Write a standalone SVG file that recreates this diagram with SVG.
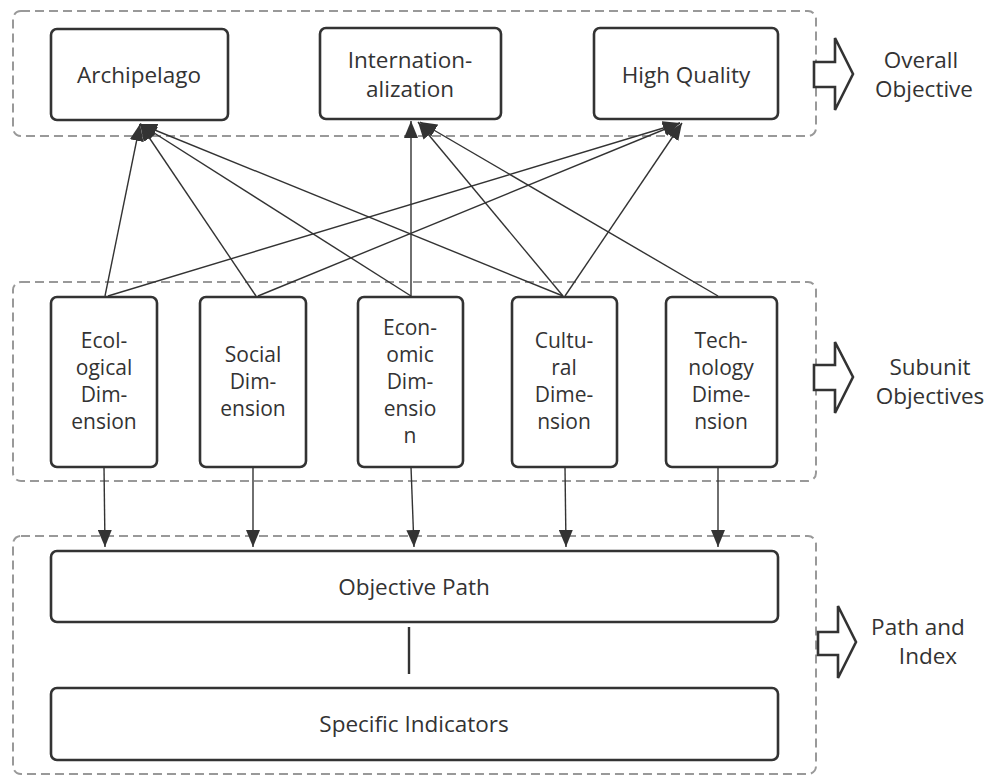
<svg xmlns="http://www.w3.org/2000/svg" width="995" height="776" viewBox="0 0 995 776">
<style>
.grp{fill:none;stroke:#999;stroke-width:2;stroke-dasharray:9 5}
.box{fill:#fff;stroke:#333;stroke-width:2.6}
.t{font-family:"Open Sans","Noto Sans",sans-serif;font-size:22.5px;fill:#333;text-anchor:middle}
.s{font-size:21px}
.c{stroke:#333;stroke-width:1.4;fill:none}
.blk{fill:#fff;stroke:#333;stroke-width:2.6;stroke-linejoin:miter}
</style>
<defs>
<marker id="ah" markerUnits="userSpaceOnUse" markerWidth="18" markerHeight="14" refX="17" refY="7" orient="auto">
<path d="M0,0 L17,7 L0,14 z" fill="#333"/>
</marker>
</defs>
<rect class="grp" x="13" y="11" width="803" height="125" rx="8"/>
<rect class="grp" x="13" y="282" width="803" height="199" rx="8"/>
<rect class="grp" x="13" y="536" width="803" height="238" rx="8"/>

<g id="archipelago"><rect class="box" x="51" y="29" width="177" height="91" rx="6"/><text class="t" x="139" y="83">Archipelago</text></g>
<g id="internationalization"><rect class="box" x="320" y="28" width="181" height="91" rx="6"/><text class="t" x="410" y="68">Internation-</text><text class="t" x="410" y="97">alization</text></g>
<g id="high-quality"><rect class="box" x="594" y="28" width="184" height="91" rx="6"/><text class="t" x="686" y="83">High Quality</text></g>

<g id="ecological"><rect class="box" x="51" y="297" width="106" height="170" rx="6"/><text class="t s" x="104" y="348">Ecol-</text><text class="t s" x="104" y="375">ogical</text><text class="t s" x="104" y="402">Dim-</text><text class="t s" x="104" y="429">ension</text></g>
<g id="social"><rect class="box" x="200" y="297" width="106" height="170" rx="6"/><text class="t s" x="253" y="362">Social</text><text class="t s" x="253" y="389">Dim-</text><text class="t s" x="253" y="416">ension</text></g>
<g id="economic"><rect class="box" x="358" y="297" width="105" height="170" rx="6"/><text class="t s" x="410" y="335">Econ-</text><text class="t s" x="410" y="362">omic</text><text class="t s" x="410" y="389">Dim-</text><text class="t s" x="410" y="416">ensio</text><text class="t s" x="410" y="443">n</text></g>
<g id="cultural"><rect class="box" x="512" y="297" width="105" height="170" rx="6"/><text class="t s" x="564" y="348">Cultu-</text><text class="t s" x="564" y="375">ral</text><text class="t s" x="564" y="402">Dime-</text><text class="t s" x="564" y="429">nsion</text></g>
<g id="technology"><rect class="box" x="666" y="297" width="111" height="170" rx="6"/><text class="t s" x="721" y="348">Tech-</text><text class="t s" x="721" y="375">nology</text><text class="t s" x="721" y="402">Dime-</text><text class="t s" x="721" y="429">nsion</text></g>

<g id="objective-path"><rect class="box" x="51" y="551" width="727" height="71" rx="6"/><text class="t" x="414" y="595">Objective Path</text></g>
<g id="specific-indicators"><rect class="box" x="51" y="688" width="727" height="72" rx="6"/><text class="t" x="414" y="732">Specific Indicators</text></g>

<g id="overall-objective"><polygon class="blk" points="814,62 835,62 835,38 853,74 835,110 835,87 814,87"/><text class="t" x="921" y="68">Overall</text><text class="t" x="924" y="97">Objective</text></g>
<g id="subunit-objectives"><polygon class="blk" points="814,365 835,365 835,342 853,377 835,413 835,390 814,390"/><text class="t" x="930" y="375">Subunit</text><text class="t" x="930" y="404">Objectives</text></g>
<g id="path-and-index"><polygon class="blk" points="818,632 838,632 838,606 856,642 838,678 838,655 818,655"/><text class="t" x="918" y="635">Path and</text><text class="t" x="928" y="664">Index</text></g>

<g id="connectors">
<line class="c" x1="105" y1="296" x2="140" y2="124" marker-end="url(#ah)"/>
<line class="c" x1="256" y1="296" x2="140" y2="124" marker-end="url(#ah)"/>
<line class="c" x1="411" y1="296" x2="140" y2="124" marker-end="url(#ah)"/>
<line class="c" x1="563" y1="296" x2="140" y2="124" marker-end="url(#ah)"/>
<line class="c" x1="411" y1="296" x2="411" y2="121" marker-end="url(#ah)"/>
<line class="c" x1="563" y1="296" x2="418" y2="122" marker-end="url(#ah)"/>
<line class="c" x1="718" y1="296" x2="420" y2="122" marker-end="url(#ah)"/>
<line class="c" x1="108" y1="296" x2="680" y2="123" marker-end="url(#ah)"/>
<line class="c" x1="258" y1="296" x2="680" y2="123" marker-end="url(#ah)"/>
<line class="c" x1="565" y1="296" x2="682" y2="123" marker-end="url(#ah)"/>
<line class="c" x1="104" y1="467" x2="105" y2="547" marker-end="url(#ah)"/>
<line class="c" x1="253" y1="467" x2="253" y2="547" marker-end="url(#ah)"/>
<line class="c" x1="411" y1="467" x2="414" y2="547" marker-end="url(#ah)"/>
<line class="c" x1="565" y1="467" x2="566" y2="547" marker-end="url(#ah)"/>
<line class="c" x1="718" y1="467" x2="718" y2="547" marker-end="url(#ah)"/>
<line x1="409" y1="627" x2="409" y2="674" stroke="#333" stroke-width="2.4"/>
</g>
</svg>
